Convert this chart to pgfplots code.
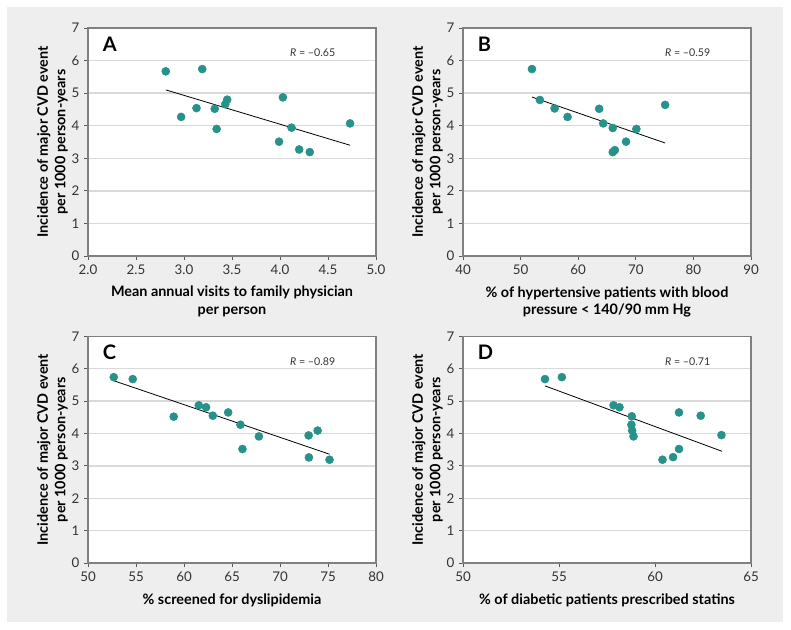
\documentclass[border=0pt]{standalone}
\usepackage{fontspec}
\setmainfont{Lato}
\usepackage{pgfplots}
\pgfplotsset{compat=1.18}
\definecolor{bg}{HTML}{EDEEED}
\definecolor{dot}{RGB}{38,146,137}
\definecolor{gridc}{HTML}{D9D9D9}
\definecolor{framec}{HTML}{808080}
\pgfplotsset{panel/.style={
  scale only axis, width=216pt, height=171pt, anchor=south west,
  ymin=0, ymax=7, ytick={0,...,7},
  axis background/.style={fill=white},
  ymajorgrids, grid style={gridc, line width=1pt},
  axis line style={framec, line width=0.8pt},
  tick style={black!65, line width=0.6pt},
  tick align=outside, major tick length=3pt,
  xtick pos=bottom, ytick pos=left,
  tick label style={font=\fontsize{10}{12}\selectfont, text=black!80},
  /pgf/number format/assume math mode=true,
  label style={font=\bfseries\fontsize{10.8}{13}\selectfont, align=center},
  ylabel={Incidence of major CVD event\\per 1000 person-years},
  ylabel shift=-4pt, xlabel shift=2pt,
  clip=false,
},
dots/.style={only marks, mark=*, mark size=3pt, mark options={draw=dot, fill=dot}},
fit/.style={black, line width=0.6pt},
}
\tikzset{
letter/.style={anchor=west, font=\bfseries\fontsize{15}{15}\selectfont},
rval/.style={font=\fontsize{8}{10}\selectfont, text=black!80},
}
\begin{document}
\begin{tikzpicture}
\begin{scope}[x=0.75pt,y=-0.75pt]
\path[use as bounding box] (0,0) rectangle (791,630);
\fill[bg] (7,7) rectangle (783,622);
\end{scope}

% A
\begin{axis}[panel, at={(66pt,-192pt)},
  xmin=2, xmax=5, xtick={2,2.5,...,5},
  xticklabel style={/pgf/number format/.cd, fixed, fixed zerofill, precision=1},
  xlabel={Mean annual visits to family physician\\per person}]
\addplot[dots] table {
x y
2.81 5.67
3.19 5.74
2.97 4.27
3.13 4.54
3.32 4.52
3.34 3.90
3.43 4.66
3.45 4.80
4.03 4.87
3.99 3.51
4.12 3.94
4.20 3.27
4.31 3.19
4.73 4.07
};
\addplot[fit] coordinates {(2.81,5.10) (4.73,3.40)};
\node[letter] at (rel axis cs:0.035,0.93) {A};
\node[rval] at (rel axis cs:0.78,0.89) {\textit{R} = \textendash0.65};
\end{axis}

% B
\begin{axis}[panel, at={(347.25pt,-192pt)},
  xmin=40, xmax=90, xtick={40,50,...,90},
  xlabel={\% of hypertensive patients with blood\\pressure < 140/90 mm Hg}]
\addplot[dots] table {
x y
51.97 5.74
53.35 4.79
55.90 4.53
58.15 4.27
63.64 4.52
64.34 4.07
66.00 3.93
70.10 3.90
68.30 3.51
66.00 3.19
66.36 3.25
75.09 4.64
};
\addplot[fit] coordinates {(51.97,4.88) (75.09,3.47)};
\node[letter] at (rel axis cs:0.035,0.93) {B};
\node[rval] at (rel axis cs:0.78,0.89) {\textit{R} = \textendash0.59};
\end{axis}

% C
\begin{axis}[panel, at={(66pt,-422.25pt)}, height=170pt,
  xmin=50, xmax=80, xtick={50,55,...,80},
  xlabel={\% screened for dyslipidemia}]
\addplot[dots] table {
x y
52.68 5.74
54.66 5.68
58.93 4.52
61.54 4.87
62.30 4.81
63.00 4.55
64.60 4.65
65.88 4.27
66.09 3.52
67.80 3.91
72.98 3.94
73.92 4.09
73.01 3.26
75.16 3.19
};
\addplot[fit] coordinates {(52.68,5.63) (75.16,3.36)};
\node[letter] at (rel axis cs:0.035,0.93) {C};
\node[rval] at (rel axis cs:0.78,0.89) {\textit{R} = \textendash0.89};
\end{axis}

% D
\begin{axis}[panel, at={(347.25pt,-422.25pt)}, height=170pt,
  xmin=50, xmax=65, xtick={50,55,...,65},
  xlabel={\% of diabetic patients prescribed statins}]
\addplot[dots] table {
x y
54.27 5.68
55.15 5.74
57.84 4.87
58.15 4.81
58.79 4.53
58.77 4.27
58.81 4.09
58.88 3.91
60.39 3.19
60.94 3.27
61.25 3.52
61.25 4.65
62.38 4.55
63.46 3.95
};
\addplot[fit] coordinates {(54.27,5.47) (63.49,3.45)};
\node[letter] at (rel axis cs:0.035,0.93) {D};
\node[rval] at (rel axis cs:0.78,0.89) {\textit{R} = \textendash0.71};
\end{axis}
\end{tikzpicture}
\end{document}
